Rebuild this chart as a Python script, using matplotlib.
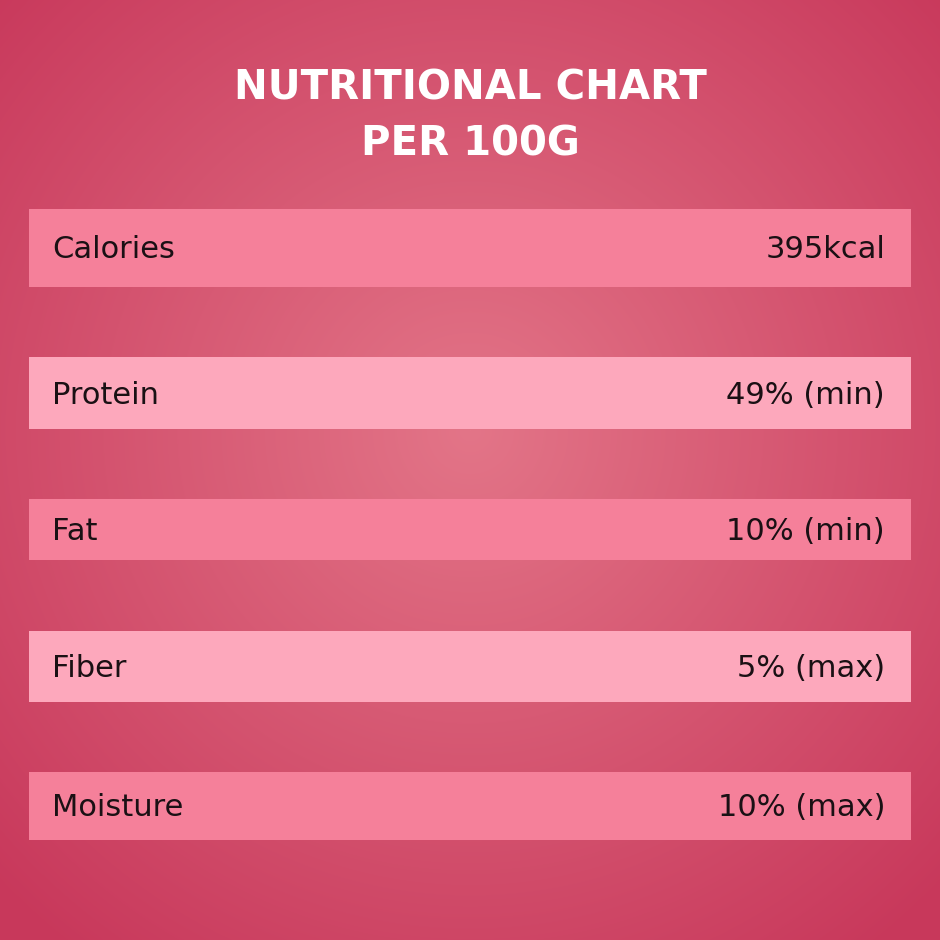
import numpy as np
import matplotlib.pyplot as plt

# data
nutrients = ["Calories", "Protein", "Fat", "Fiber", "Moisture"]
amounts = ["395kcal", "49% (min)", "10% (min)", "5% (max)", "10% (max)"]

# layout (pixel space)
bar_top = [209, 357, 499, 631, 772]
bar_h = [78, 72, 61, 71, 68]
bar_colors = ["#f5809a", "#fda8bc", "#f5809a", "#fda8bc", "#f5809a"]

fig = plt.figure(figsize=(9.4, 9.4), dpi=100)
ax = fig.add_axes([0, 0, 1, 1])
ax.set_xlim(0, 940)
ax.set_ylim(940, 0)
ax.axis("off")

# radial gradient background
yy, xx = np.mgrid[0:940, 0:940]
r = np.sqrt((xx - 470) ** 2 + (yy - 430) ** 2) / 660
r = np.clip(r, 0, 1)
inner = np.array([0xe3, 0x75, 0x88]) / 255
outer = np.array([0xc8, 0x38, 0x5b]) / 255
img = inner + (outer - inner) * r[..., None]
ax.imshow(img, extent=[0, 940, 940, 0], zorder=0)

ax.text(470, 88, "NUTRITIONAL CHART", color="white", fontsize=29,
        fontweight="bold", family="DejaVu Sans", ha="center", va="center")
ax.text(470, 145, "PER 100G", color="white", fontsize=29,
        fontweight="bold", family="DejaVu Sans", ha="center", va="center")

centers = [t + h / 2 for t, h in zip(bar_top, bar_h)]
ax.barh(centers, [882] * len(centers), height=bar_h, left=29,
        color=bar_colors, zorder=1)
for c, name, val in zip(centers, nutrients, amounts):
    ax.text(52, c + 2, name, fontsize=22, family="DejaVu Sans", color="#1a1014",
            ha="left", va="center", zorder=2)
    ax.text(885, c + 2, val, fontsize=22, family="DejaVu Sans", color="#1a1014",
            ha="right", va="center", zorder=2)

fig.savefig("out.png", dpi=100)
